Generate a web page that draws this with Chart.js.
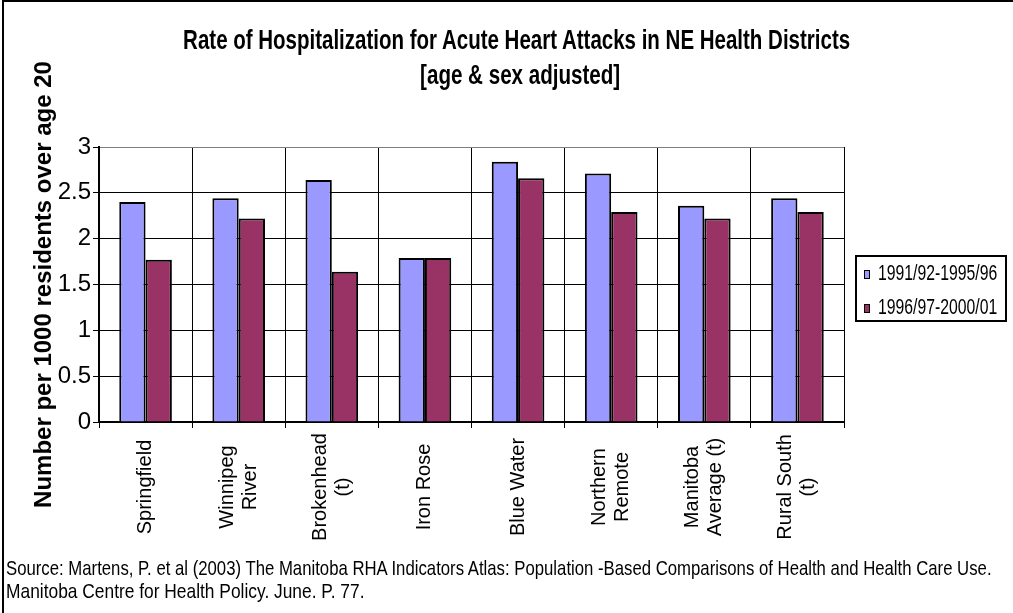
<!DOCTYPE html>
<html>
<head>
<meta charset="utf-8">
<title>Acute Heart Attack Hospitalization</title>
<script src="https://cdn.jsdelivr.net/npm/chart.js"></script>
<style>
  body { margin: 0; background: #fff; }
  #wrap {
    position: relative; width: 1013px; height: 613px; overflow: hidden;
    font-family: "Liberation Sans", Arial, sans-serif; color: #000;
  }
  #frame {
    position: absolute; left: 2px; top: 0; width: 1100px; height: 700px;
    border-top: 2px solid #000; border-left: 2px solid #000;
  }
  #chart { position: absolute; left: 0; top: 0; }
  .txt { position: absolute; white-space: nowrap; }
  .title { font-weight: bold; font-size: 28px; line-height: 28px; }
  .centered { transform-origin: center center; }
  .lefted { transform-origin: left center; }
  #legend {
    position: absolute; left: 855px; top: 255px; width: 152px; height: 67px;
    box-sizing: border-box; border: 2px solid #000;
  }
  .swatch {
    position: absolute; width: 6px; height: 9px; box-sizing: border-box;
    border: 1px solid #000;
  }
  .legtxt { font-size: 22px; line-height: 22px; }
  .src { font-size: 21px; line-height: 21px; }
</style>
</head>
<body>
<div id="wrap">
  <div id="frame"></div>
  <canvas id="chart" width="1013" height="613"></canvas>
  <div class="txt title centered" data-x="516" data-y="40" data-w="667">Rate of Hospitalization for Acute Heart Attacks in NE Health Districts</div>
  <div class="txt title centered" data-x="520" data-y="75" data-w="200">[age &amp; sex adjusted]</div>
  <div id="legend"></div>
  <div class="txt src lefted" data-x="6" data-y="567" data-w="986">Source: Martens, P. et al (2003) The Manitoba RHA Indicators Atlas: Population -Based Comparisons of Health and Health Care Use.</div>
  <div class="txt src lefted" data-x="6" data-y="590" data-w="358">Manitoba Centre for Health Policy. June. P. 77.</div>
</div>
<script>
const categories = [
  'Springfield', ['Winnipeg', 'River'], ['Brokenhead', '(t)'], 'Iron Rose',
  'Blue Water', ['Northern', 'Remote'], ['Manitoba', 'Average (t)'], ['Rural South', '(t)']
];
const seriesNames = ['1991/92-1995/96', '1996/97-2000/01'];
const rates9196 = [2.40, 2.44, 2.64, 1.79, 2.84, 2.71, 2.36, 2.44];
const rates9601 = [1.77, 2.22, 1.64, 1.79, 2.66, 2.29, 2.22, 2.29];
const yTicks = [0, 0.5, 1, 1.5, 2, 2.5, 3];
const seriesColors = ['#9999FF', '#993366'];

// rotated category names, centred under each tick
const categoryLabels = {
  id: 'categoryLabels',
  afterDraw(chart) {
    const { ctx } = chart;
    const x = chart.scales.x;
    ctx.save();
    ctx.font = '20px "Liberation Sans", Arial, sans-serif';
    ctx.fillStyle = '#000';
    ctx.textAlign = 'center';
    ctx.textBaseline = 'middle';
    categories.forEach((label, i) => {
      const lines = [].concat(label);
      ctx.save();
      ctx.translate(x.getPixelForTick(i), x.top + 65);
      ctx.rotate(-Math.PI / 2);
      lines.forEach((line, j) => ctx.fillText(line, 0, (j - (lines.length - 1) / 2) * 23));
      ctx.restore();
    });
    ctx.restore();
  }
};

const chart = new Chart(document.getElementById('chart'), {
  type: 'bar',
  data: {
    labels: categories,
    datasets: [rates9196, rates9601].map((data, i) => ({
      label: seriesNames[i],
      data: data,
      backgroundColor: seriesColors[i],
      borderColor: '#000',
      borderWidth: 2,
      categoryPercentage: 0.565,
      barPercentage: 1
    }))
  },
  options: {
    responsive: false,
    devicePixelRatio: 1,
    animation: false,
    layout: { padding: { top: 147, right: 169, bottom: 0, left: 0 } },
    plugins: {
      legend: { display: false },
      tooltip: { enabled: false }
    },
    scales: {
      x: {
        grid: {
          offset: true,
          color: (c) => c.index === categories.length ? '#808080' : '#000',
          tickColor: '#000',
          tickLength: 6,
          lineWidth: 1
        },
        border: { color: '#000', width: 2 },
        ticks: { display: false },
        afterFit: (scale) => { scale.height = 613 - 422; }
      },
      y: {
        min: 0,
        max: 3,
        afterBuildTicks: (scale) => { scale.ticks = yTicks.map(v => ({ value: v })); },
        grid: {
          color: (c) => c.tick && c.tick.value === 3 ? '#808080' : '#000',
          tickColor: '#000',
          tickLength: 6,
          lineWidth: 1
        },
        border: { color: '#000', width: 2 },
        ticks: {
          color: '#000',
          padding: 2,
          callback: (v) => String(v),
          font: { family: '"Liberation Sans", Arial, sans-serif', size: 24 }
        },
        title: {
          display: true,
          text: 'Number per 1000 residents over age 20',
          color: '#000',
          padding: { top: 30, bottom: 0 },
          font: { family: '"Liberation Sans", Arial, sans-serif', size: 24, weight: 'bold' }
        },
        afterFit: (scale) => { scale.width = 99; }
      }
    }
  },
  plugins: [categoryLabels]
});

// legend built from the datasets
const legend = document.getElementById('legend');
chart.data.datasets.forEach((ds, i) => {
  const cy = 273 + i * 34;
  const sw = document.createElement('div');
  sw.className = 'swatch';
  sw.style.left = (862 - 855) + 'px';
  sw.style.top = (cy - 5 - 255) + 'px';
  sw.style.background = ds.backgroundColor;
  legend.appendChild(sw);
  const t = document.createElement('div');
  t.className = 'txt legtxt lefted';
  t.textContent = ds.label;
  t.dataset.x = 878; t.dataset.y = cy; t.dataset.w = 119;
  document.getElementById('wrap').appendChild(t);
});

// narrow type: squeeze each text line to its width
document.querySelectorAll('.txt').forEach((el) => {
  const w = el.offsetWidth, h = el.offsetHeight;
  const s = (+el.dataset.w) / w;
  const x = +el.dataset.x, y = +el.dataset.y;
  el.style.top = (y - h / 2) + 'px';
  el.style.left = (el.classList.contains('centered') ? x - w / 2 : x) + 'px';
  el.style.transform = 'scaleX(' + s.toFixed(3) + ')';
});
</script>
</body>
</html>
